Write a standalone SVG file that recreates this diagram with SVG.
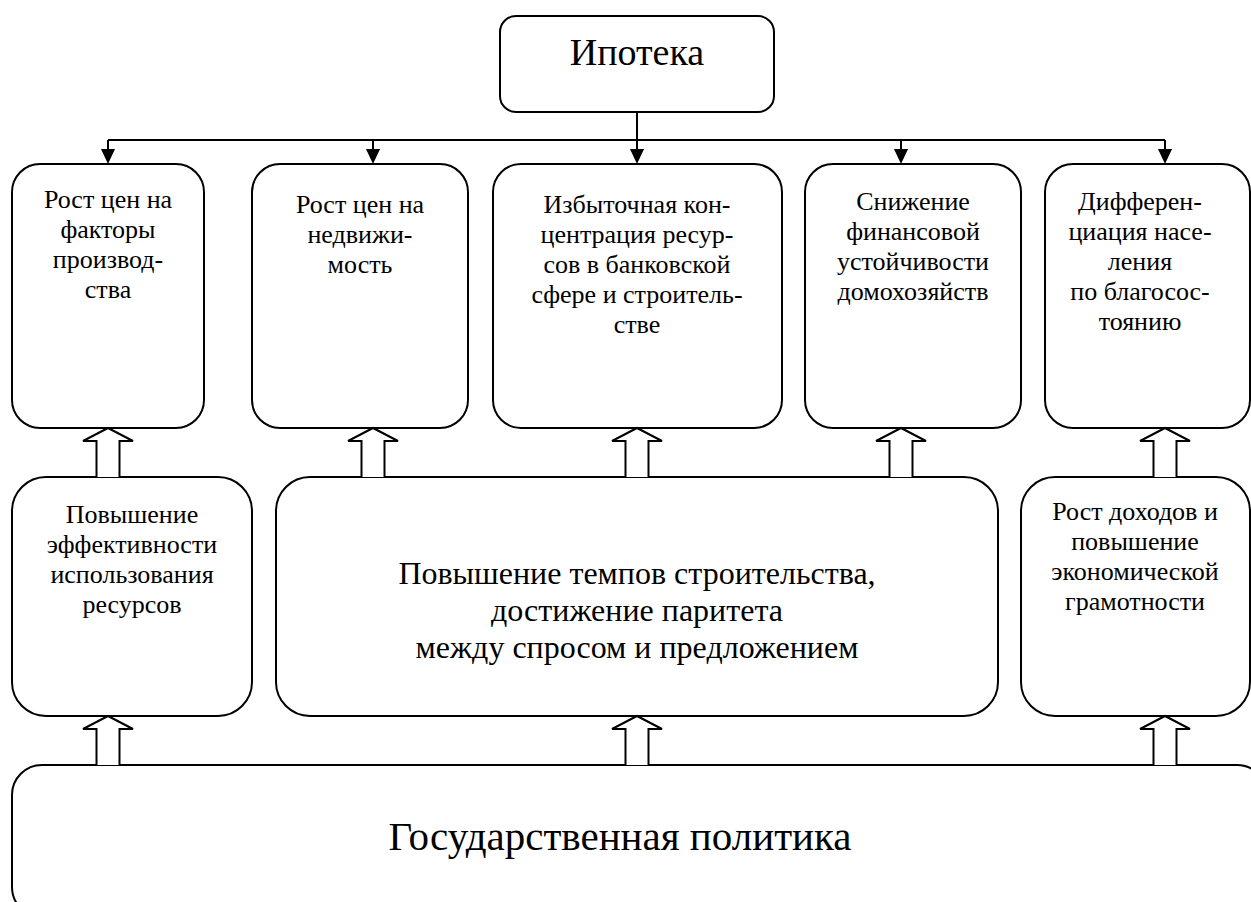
<svg xmlns="http://www.w3.org/2000/svg" width="1251" height="902" viewBox="0 0 1251 902">
<style>
.box{fill:#fff;stroke:#000;stroke-width:2}
text{font-family:"Liberation Serif","Times New Roman",serif;fill:#000;text-anchor:middle}
.s{font-size:26px}
.m{font-size:32px}
.l{font-size:38px}
.g{font-size:41px}
.ln{fill:none;stroke:#000;stroke-width:2}
.ah{fill:#000;stroke:none}
.ha{fill:#fff;stroke:#000;stroke-width:2;stroke-linejoin:miter}
</style>
<defs>
<path id="tri" d="M-7,-15 L7,-15 L0,0 Z"/>
</defs>
<rect width="1251" height="902" fill="#fff"/>

<g id="connectors">
<line class="ln" x1="637" y1="112" x2="637" y2="140"/>
<line class="ln" x1="108" y1="140" x2="1165" y2="140"/>
<line class="ln" x1="108" y1="140" x2="108" y2="150"/>
<line class="ln" x1="373" y1="140" x2="373" y2="150"/>
<line class="ln" x1="637" y1="140" x2="637" y2="150"/>
<line class="ln" x1="901" y1="140" x2="901" y2="150"/>
<line class="ln" x1="1165" y1="140" x2="1165" y2="150"/>
<use href="#tri" class="ah" x="108" y="164"/>
<use href="#tri" class="ah" x="373" y="164"/>
<use href="#tri" class="ah" x="637" y="164"/>
<use href="#tri" class="ah" x="901" y="164"/>
<use href="#tri" class="ah" x="1165" y="164"/>
</g>

<g id="n-ipoteka">
<rect class="box" x="500" y="16" width="274" height="96" rx="16"/>
<text class="l" x="637" y="65">Ипотека</text>
</g>

<g id="n-r1-1">
<rect class="box" x="12" y="164" width="192" height="264" rx="28"/>
<text class="s" x="108" y="208">Рост цен на</text>
<text class="s" x="108" y="238">факторы</text>
<text class="s" x="108" y="268">производ-</text>
<text class="s" x="108" y="298">ства</text>
</g>

<g id="n-r1-2">
<rect class="box" x="252" y="164" width="216" height="264" rx="28"/>
<text class="s" x="360" y="213">Рост цен на</text>
<text class="s" x="360" y="243">недвижи-</text>
<text class="s" x="360" y="273">мость</text>
</g>

<g id="n-r1-3">
<rect class="box" x="493" y="164" width="289" height="264" rx="28"/>
<text class="s" x="637" y="213">Избыточная кон-</text>
<text class="s" x="637" y="243">центрация ресур-</text>
<text class="s" x="637" y="273">сов в банковской</text>
<text class="s" x="637" y="303">сфере и строитель-</text>
<text class="s" x="637" y="333">стве</text>
</g>

<g id="n-r1-4">
<rect class="box" x="805" y="164" width="216" height="264" rx="28"/>
<text class="s" x="913" y="210">Снижение</text>
<text class="s" x="913" y="240">финансовой</text>
<text class="s" x="913" y="270">устойчивости</text>
<text class="s" x="913" y="300">домохозяйств</text>
</g>

<g id="n-r1-5">
<rect class="box" x="1045" y="164" width="205" height="264" rx="28"/>
<text class="s" x="1140" y="210">Дифферен-</text>
<text class="s" x="1140" y="240">циация насе-</text>
<text class="s" x="1140" y="270">ления</text>
<text class="s" x="1140" y="300">по благосос-</text>
<text class="s" x="1140" y="330">тоянию</text>
</g>

<g id="n-r2-1">
<rect class="box" x="12" y="477" width="240" height="239" rx="34"/>
<text class="s" x="132" y="523">Повышение</text>
<text class="s" x="132" y="553">эффективности</text>
<text class="s" x="132" y="583">использования</text>
<text class="s" x="132" y="613">ресурсов</text>
</g>

<g id="n-r2-2">
<rect class="box" x="276" y="477" width="722" height="239" rx="34"/>
<text class="m" x="637" y="584">Повышение темпов строительства,</text>
<text class="m" x="637" y="621">достижение паритета</text>
<text class="m" x="637" y="658">между спросом и предложением</text>
</g>

<g id="n-r2-3">
<rect class="box" x="1021" y="477" width="229" height="239" rx="34"/>
<text class="s" x="1135" y="520">Рост доходов и</text>
<text class="s" x="1135" y="550">повышение</text>
<text class="s" x="1135" y="580">экономической</text>
<text class="s" x="1135" y="610">грамотности</text>
</g>

<g id="n-gov">
<rect class="box" x="12" y="765" width="1255" height="152" rx="30"/>
<text class="g" x="620" y="850">Государственная политика</text>
</g>

<g id="hollow-arrows">
<path class="ha" d="M96.5,477 V441 H83 L108,428 L133,441 H119.5 V477"/>
<path class="ha" d="M361.5,477 V441 H348 L373,428 L398,441 H384.5 V477"/>
<path class="ha" d="M625.5,477 V441 H612 L637,428 L662,441 H648.5 V477"/>
<path class="ha" d="M889.5,477 V441 H876 L901,428 L926,441 H912.5 V477"/>
<path class="ha" d="M1153.5,477 V441 H1140 L1165,428 L1190,441 H1176.5 V477"/>
<path class="ha" d="M96.5,765 V729 H83 L108,716 L133,729 H119.5 V765"/>
<path class="ha" d="M625.5,765 V729 H612 L637,716 L662,729 H648.5 V765"/>
<path class="ha" d="M1153.5,765 V729 H1140 L1165,716 L1190,729 H1176.5 V765"/>
</g>
</svg>
